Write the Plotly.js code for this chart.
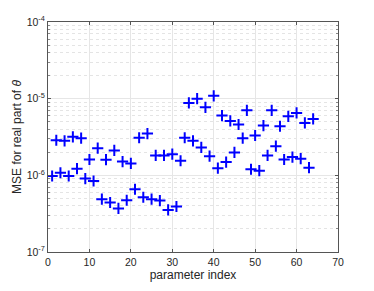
<!DOCTYPE html>
<html>
<head>
<meta charset="utf-8">
<script src="https://cdn.plot.ly/plotly-3.0.1.min.js"></script>
<style>html,body{margin:0;padding:0;background:#fff;}#chart{width:374px;height:291px;}</style>
</head>
<body>
<div id="chart"></div>
<script>
const paramIndex = [1,2,3,4,5,6,7,8,9,10,11,12,13,14,15,16,17,18,19,20,21,22,23,24,25,26,27,28,29,30,31,32,
  33,34,35,36,37,38,39,40,41,42,43,44,45,46,47,48,49,50,51,52,53,54,55,56,57,58,59,60,61,62,63,64];
const mseReal = [9.8e-7,2.87e-6,1.08e-6,2.82e-6,9.8e-7,3.18e-6,1.22e-6,3.05e-6,9.06e-7,1.61e-6,
  8.43e-7,2.26e-6,4.88e-7,1.6e-6,4.42e-7,2.11e-6,3.7e-7,1.51e-6,4.73e-7,1.43e-6,
  6.58e-7,3.09e-6,5.18e-7,3.51e-6,4.88e-7,1.82e-6,4.69e-7,1.82e-6,3.54e-7,1.89e-6,
  3.92e-7,1.55e-6,3.09e-6,8.79e-6,2.82e-6,1.0e-5,2.31e-6,7.71e-6,1.78e-6,1.09e-5,
  1.24e-6,6.02e-6,1.49e-6,5.13e-6,1.99e-6,4.6e-6,3.05e-6,7.05e-6,1.2e-6,3.31e-6,
  1.15e-6,4.46e-6,1.82e-6,7.05e-6,2.4e-6,4.37e-6,1.61e-6,5.89e-6,1.73e-6,6.52e-6,
  1.65e-6,4.83e-6,1.26e-6,5.45e-6];
const xTicks = [0,10,20,30,40,50,60,70];
const yTickVals = [1e-7,1e-6,1e-5,1e-4];
const yTickText = ['10<sup>-7</sup>','10<sup>-6</sup>','10<sup>-5</sup>','10<sup>-4</sup>'];
const yMinorVals = [2e-7,3e-7,4e-7,5e-7,6e-7,7e-7,8e-7,9e-7,2e-6,3e-6,4e-6,5e-6,6e-6,7e-6,8e-6,9e-6,
  2e-5,3e-5,4e-5,5e-5,6e-5,7e-5,8e-5,9e-5];

const trace = {
  x: paramIndex, y: mseReal, type: 'scatter', mode: 'markers',
  marker: {symbol: 'cross-thin', size: 8, color: '#0000ff', line: {color: '#0000ff', width: 2}},
  hoverinfo: 'none'
};
const layout = {
  width: 374, height: 291,
  margin: {l: 48, r: 36, t: 22, b: 39},
  paper_bgcolor: '#fff', plot_bgcolor: '#fff',
  font: {family: 'Liberation Sans, Arial, sans-serif', size: 10, color: '#262626'},
  showlegend: false,
  xaxis: {
    range: [0, 70], tickvals: xTicks, ticktext: xTicks.map(String),
    showgrid: true, gridcolor: '#e6e6e6', gridwidth: 1,
    ticks: 'inside', ticklen: 3, tickcolor: '#555',
    showline: true, linecolor: '#555', linewidth: 1, mirror: 'ticks',
    zeroline: false,
    title: {text: 'parameter index', font: {size: 12, color: '#262626'}, standoff: 4},
    tickfont: {size: 10.5, color: '#262626'}
  },
  yaxis: {
    type: 'log', range: [-7, -4], tickvals: yTickVals, ticktext: yTickText,
    showgrid: true, gridcolor: '#e6e6e6', gridwidth: 1,
    ticks: 'inside', ticklen: 3, tickcolor: '#555',
    showline: true, linecolor: '#555', linewidth: 1, mirror: 'ticks',
    zeroline: false,
    minor: {tickvals: yMinorVals,
      showgrid: true, gridcolor: '#e4e4e4', griddash: 'dot', gridwidth: 1, ticks: 'inside', ticklen: 2, tickcolor: '#888'},
    title: {text: 'MSE for real part of <i>θ</i>', font: {size: 12, color: '#262626'}, standoff: 2},
    tickfont: {size: 10.5, color: '#262626'}
  }
};
Plotly.newPlot('chart', [trace], layout, {displayModeBar: false, staticPlot: true});
</script>
</body>
</html>
